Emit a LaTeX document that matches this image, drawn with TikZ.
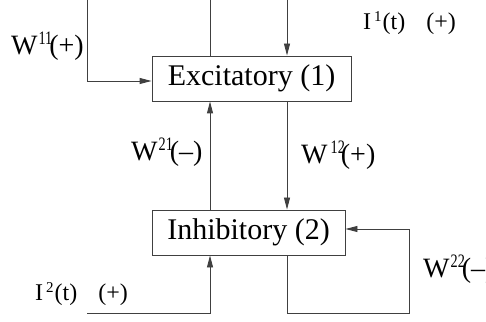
\documentclass[tikz,border=0pt]{standalone}
\usepackage{fontspec}
\setmainfont{Liberation Serif}
\usetikzlibrary{arrows.meta}
\newcommand{\wsup}[1]{\raisebox{10pt}{\scalebox{0.75}[1]{\fontsize{19}{22}\selectfont #1}}}
\newcommand{\isup}[1]{\raisebox{8pt}{\fontsize{15}{17}\selectfont #1}}
\begin{document}
\begin{tikzpicture}[x=1pt,y=1pt,
  conn/.style={draw=black!75,line width=0.9pt},
  arr/.style={conn,-{Triangle[length=12pt,width=6pt]}},
  unit/.style={draw=black!75,line width=0.9pt,inner sep=0pt,font=\fontsize{30}{36}\selectfont},
  wlbl/.style={font=\fontsize{28}{34}\selectfont,inner sep=0pt},
  ilbl/.style={font=\fontsize{24}{30}\selectfont,inner sep=0pt}]
\useasboundingbox (0,0) rectangle (486,321);
\clip (0,0) rectangle (486,321);
\node[unit,minimum width=199pt,minimum height=45pt] (exc) at (251.5,242.5) {Excitatory (1)};
\node[unit,minimum width=193pt,minimum height=45pt] (inh) at (248.5,88.5) {Inhibitory (2)};
\coordinate (topL) at (210,340);
\coordinate (topR) at (287,340);
\coordinate (inL) at (87,8);
% W11 loop
\draw[arr] (exc.north -| topL) -- (topL) -| (87,240) -- (exc.west |- 87,240);
% I1 input
\draw[arr] (topR) -- (exc.north -| topR);
% W21
\draw[arr] (inh.north -| topL) -- (exc.south -| topL);
% W12
\draw[arr] (exc.south -| topR) -- (inh.north -| topR);
% I2 input
\draw[arr] (inL) -| (inh.south -| topL);
% W22 loop
\draw[arr] (inh.south -| topR) |- (409,8) |- (inh.east |- 409,92);
% labels
\node[wlbl,anchor=base west] (l11) at (11,266) {W\kern1pt\wsup{11}\kern-3pt(+)};
\node[ilbl,anchor=base west] (li1) at (363,291) {I\kern3pt\isup{1}\kern1pt(t)\hspace{21pt}(+)};
\node[wlbl,anchor=base west] (l21) at (131,160) {W\kern1pt\wsup{21}\kern-3pt(--)};
\node[wlbl,anchor=base west] (l12) at (301,157) {W\kern3pt\wsup{12}\kern-4pt(+)};
\node[ilbl,anchor=base west] (li2) at (35,21) {I\kern3pt\isup{2}\kern1pt(t)\hspace{21pt}(+)};
\node[wlbl,anchor=base west] (l22) at (423,44) {W\kern1pt\wsup{22}\kern-3pt(--)};
\end{tikzpicture}
\end{document}
